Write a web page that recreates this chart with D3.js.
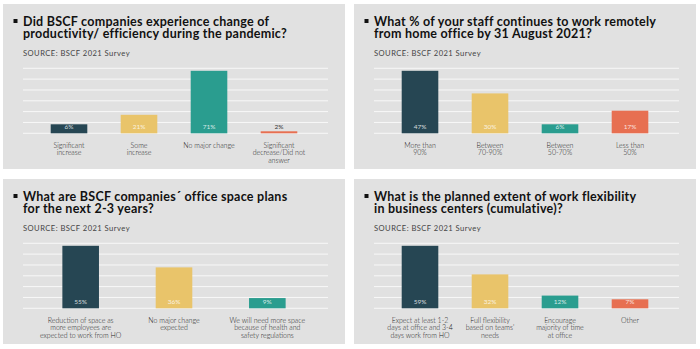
<!DOCTYPE html>
<html><head><meta charset="utf-8">
<script src="https://cdn.jsdelivr.net/npm/d3@7/dist/d3.min.js"></script>
<style>
body{margin:0;background:#fff;}
svg{display:block;}
</style></head>
<body>
<script>
// ---- Data ----
const titles = [
  ["Did BSCF companies experience change of", "productivity/ efficiency during the pandemic?"],
  ["What % of your staff continues to work remotely", "from home office by 31 August 2021?"],
  ["What are BSCF companies\u00b4 office space plans", "for the next 2-3 years?"],
  ["What is the planned extent of work flexibility", "in business centers (cumulative)?"]
];
const sourceText = "SOURCE: BSCF 2021 Survey";

const categories1 = [["Significant","increase"],["Some","increase"],["No major change"],["Significant","decrease/Did not","answer"]];
const values1 = [6, 21, 71, 2];

const categories2 = [["More than","90%"],["Between","70-90%"],["Between","50-70%"],["Less than","50%"]];
const values2 = [47, 30, 6, 17];

const categories3 = [["Reduction of space as","more employees are","expected to work from HO"],["No major change","expected"],["We will need more space","because of health and","safety regulations"]];
const values3 = [55, 36, 9];

const categories4 = [["Expect at least 1-2","days at office and 3-4","days work from HO"],["Full flexibility","based on teams'","needs"],["Encourage","majority of time","at office"],["Other"]];
const values4 = [59, 32, 12, 7];

const barColors = ["#264653", "#e9c46a", "#2a9d8f", "#e76f51"];

const panels = [
  {cats: categories1, vals: values1, title: titles[0], col: 0, row: 0},
  {cats: categories2, vals: values2, title: titles[1], col: 1, row: 0},
  {cats: categories3, vals: values3, title: titles[2], col: 0, row: 1},
  {cats: categories4, vals: values4, title: titles[3], col: 1, row: 1}
];

// ---- Layout ----
const W = 700, H = 349;
const colX = [3, 354], rowY = [4, 179];
const PW = 342, PH = 165;
const gridLeft = 20, gridRight = 325, gridTop = 64.3, baseline = 129.3;
const barMaxH = 62.5, barW = 36.6, minLabelBarH = 9;

const svg = d3.select("body").append("svg").attr("width", W).attr("height", H);

panels.forEach(p => {
  const g = svg.append("g").attr("transform", `translate(${colX[p.col]},${rowY[p.row]})`);
  g.append("rect").attr("width", PW).attr("height", PH).attr("fill", "#e1e1e1");

  // title
  g.append("rect").attr("x", 10.5).attr("y", 15).attr("width", 4).attr("height", 4).attr("fill", "#111");
  p.title.forEach((line, i) => {
    g.append("text").attr("x", 20).attr("y", 21.5 + i * 12.5)
      .attr("font-family", "Lato, sans-serif").attr("font-weight", 700)
      .attr("font-size", 12.5).attr("letter-spacing", 0.25).attr("fill", "#111").text(line);
  });

  g.append("text").attr("x", 20).attr("y", 52).text(sourceText)
    .attr("font-family", "Lato, sans-serif").attr("font-size", 7.6)
    .attr("letter-spacing", 0.45).attr("fill", "#444");

  // gridlines
  const gy = d3.scaleLinear().domain([0, 6]).range([baseline, gridTop]);
  g.selectAll("line.grid").data(d3.range(7)).join("line")
    .attr("x1", gridLeft).attr("x2", gridRight)
    .attr("y1", d => gy(d)).attr("y2", d => gy(d))
    .attr("stroke", "#f8f8f8").attr("stroke-width", 1);

  // scales
  const n = p.vals.length;
  const step = 280 / (n);
  const padIn = 1 - barW / step;
  const x = d3.scaleBand().domain(d3.range(n)).range([31, 311]).paddingInner(padIn).paddingOuter(padIn / 2);
  const y = d3.scaleLinear().domain([0, d3.max(p.vals)]).range([0, barMaxH]);
  const bh = v => v >= 5 ? Math.max(y(v), minLabelBarH) : Math.max(y(v), 2);

  g.selectAll("rect.bar").data(p.vals).join("rect")
    .attr("x", (d, i) => x(i)).attr("width", x.bandwidth())
    .attr("y", d => baseline - bh(d)).attr("height", d => bh(d))
    .attr("fill", (d, i) => barColors[i]);

  g.selectAll("text.val").data(p.vals).join("text")
    .attr("x", (d, i) => x(i) + x.bandwidth() / 2).attr("y", baseline - 4.2)
    .attr("text-anchor", "middle").attr("font-family", "Lato, sans-serif")
    .attr("font-size", 6.5)
    .attr("fill", d => d >= 5 ? "rgba(255,255,255,0.8)" : "#333")
    .text(d => d + "%");

  p.cats.forEach((lines, i) => {
    lines.forEach((l, j) => {
      g.append("text").attr("text-anchor", "middle")
        .attr("font-family", "Lato, sans-serif").attr("font-weight", 300)
        .attr("font-size", 7).attr("fill", "#222")
        .attr("x", x(i) + x.bandwidth() / 2).attr("y", 143.5 + j * 7.7).text(l);
    });
  });
});
</script>
</body></html>
